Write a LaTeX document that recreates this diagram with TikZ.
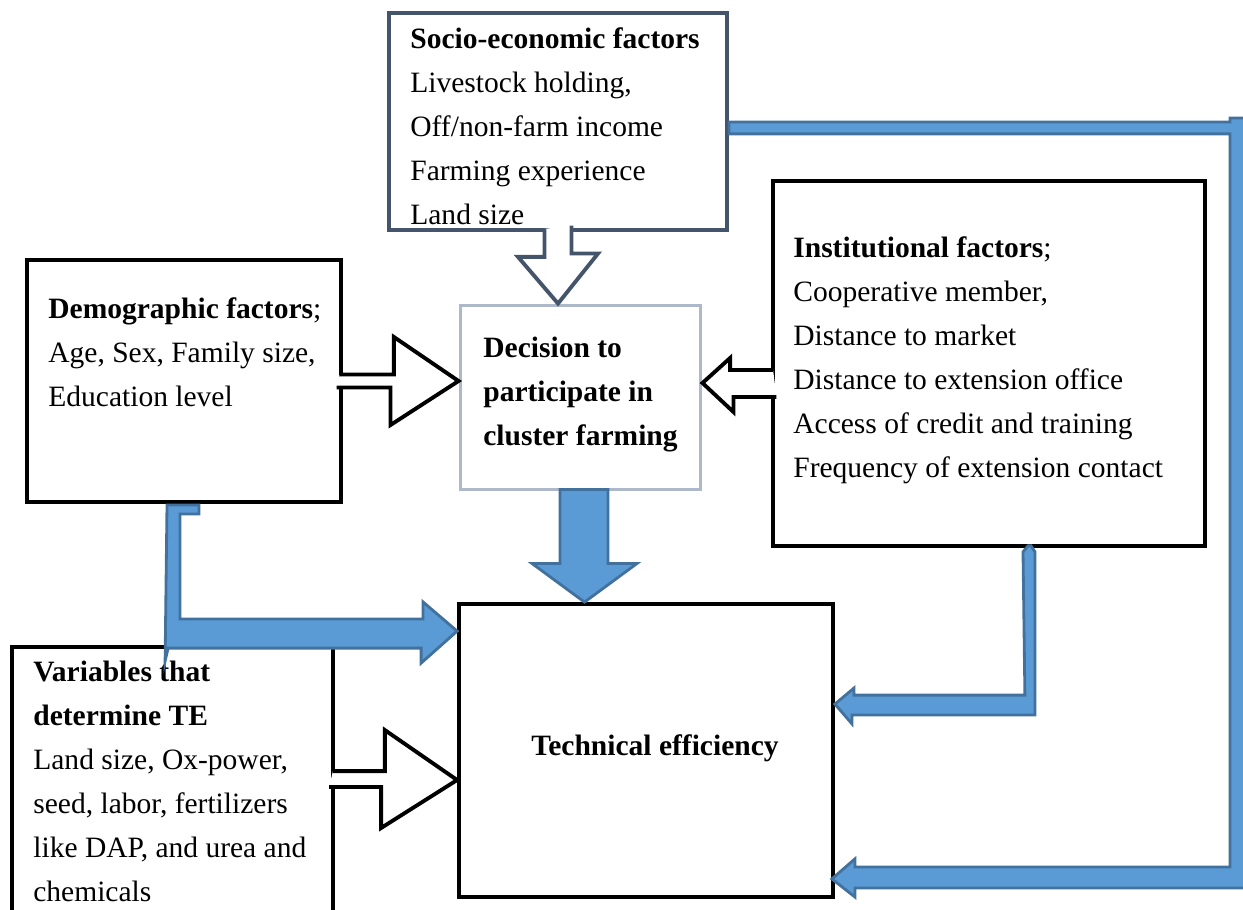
\documentclass[tikz,border=0pt]{standalone}
\usepackage{fontspec}
\setmainfont{Liberation Serif}
\usepackage{tikz}
\usetikzlibrary{calc}
\definecolor{fillblue}{HTML}{5B9BD5}
\definecolor{edgeblue}{HTML}{41719C}
\definecolor{slateedge}{HTML}{44546A}
\definecolor{paleedge}{HTML}{ADB9CA}

\begin{document}
\begin{tikzpicture}[x=0.02cm,y=-0.02cm,
  box/.style={draw=black,line width=2.2pt,rectangle,inner sep=0pt},
  txt/.style={font=\fontsize{16.8}{25}\selectfont,align=left,inner sep=0pt,anchor=base west},
  hollow/.style={draw=black,line width=2.2pt,fill=white,line join=miter},
  bluearrow/.style={draw=edgeblue,line width=1.6pt,fill=fillblue,line join=miter}]
  \useasboundingbox (0,0) rectangle (1243,909);
  \clip (0,0) rectangle (1243,909);
  % boxes
  \node[box,draw=slateedge,minimum width=6.76cm,minimum height=4.34cm] (socio) at (558,121.5) {};
  \node[box,draw=paleedge,line width=1.7pt,minimum width=4.82cm,minimum height=3.70cm] (dec) at (580.5,397.5) {};
  \node[box,minimum width=6.28cm,minimum height=4.84cm] (demo) at (184,381) {};
  \node[box,minimum width=8.64cm,minimum height=7.30cm] (inst) at (989,363.5) {};
  \node[box,minimum width=7.48cm,minimum height=5.86cm] (te) at (646,750.5) {};
  \node[box,minimum width=6.42cm,minimum height=6.26cm] (vars) at (172.5,803.5) {};
  % texts (anchored at the baseline of the last line)
  \node[txt] (sociotext) at (410,224) {\bfseries Socio-economic factors\\Livestock holding,\\Off/non-farm income\\Farming experience\\Land size};
  \node[txt] (dectext) at (483,445) {\bfseries Decision to\\\bfseries participate in\\\bfseries cluster farming};
  \node[txt] (demotext) at (48,406) {\textbf{Demographic factors};\\Age, Sex, Family size,\\Education level};
  \node[txt] (insttext) at (793,477) {\textbf{Institutional factors};\\Cooperative member,\\Distance to market\\Distance to extension office\\Access of credit and training\\Frequency of extension contact};
  \node[txt,anchor=base] (tetext) at (655,755) {\bfseries Technical efficiency};
  \node[txt] (varstext) at (33,901) {\bfseries Variables that\\\bfseries determine TE\\Land size, Ox-power,\\seed, labor, fertilizers\\like DAP, and urea and\\chemicals};
  % hollow arrows
  \filldraw[hollow,draw=slateedge] ($(socio.south)+(-13.5,-3)$) -- ++(0,28) -- ++(-26.5,0)
    -- (socio.south |- dec.north) -- ++(40,-50) -- ++(-26.5,0) -- ++(0,-28);
  \filldraw[hollow] ($(demo.east)+(-3,-6.5)$) -- ++(54,0) -- ++(0,-37.5)
    -- (demo.east -| dec.west) -- ++(-68,44) -- ++(0,-37.5) -- ++(-54,0);
  \filldraw[hollow] ($(inst.west)+(2,6.5)$) -- ++(-43,0) -- ++(0,-12)
    -- ($(dec.east)+(0,-14.5)$) -- ++(31,29) -- ++(0,-15) -- ++(43,0);
  \filldraw[hollow] ($(vars.north east)+(-2,126)$) -- ++(52,0) -- ++(0,-41)
    -- ($(te.west)+(0,29.5)$) -- ++(-76,48) -- ++(0,-41) -- ++(-52,0);
  % blue arrows
  \filldraw[bluearrow] ($(dec.south)+(-20.5,-2)$) -- ++(0,74) -- ++(-28,0)
    -- ($(dec.south |- te.north)+(4,0)$) -- ($(dec.south)+(56.5,72)$) -- ++(-29,0) -- ++(0,-74) -- cycle;
  \filldraw[bluearrow] ($(demo.south)+(-17,1)$) -- ++(32,0) -- ++(0,9) -- ++(-19,0) -- ++(0,105)
    -- ++(243,0) -- ++(0,-17) -- ($(te.north west)+(0,29)$) -- ++(-36,32) -- ++(0,-15)
    -- ++(-253,0) -- ++(-3,13) -- cycle;
  \filldraw[bluearrow] ($(inst.south)+(34,4)$) -- ++(5,-6) -- ++(3,0) -- ++(4,6) -- ++(0,163)
    -- ++(-183,0) -- ++(0,9) -- ($(te.north east)+(0,102)$) -- ++(19,-16) -- ++(0,7)
    -- ++(171,0) -- cycle;
  \filldraw[bluearrow] ($(socio.east)+(0,0.5)$) -- ++(501,0) -- ++(0,-4) -- ++(17,0) -- ++(0,770)
    -- ++(-392,0) -- ++(0,9) -- ($(te.south east)+(-3,-20)$) -- ++(23,-20) -- ++(0,8)
    -- ++(375,0) -- ++(0,-733) -- ++(-501,0) -- cycle;
\end{tikzpicture}
\end{document}
